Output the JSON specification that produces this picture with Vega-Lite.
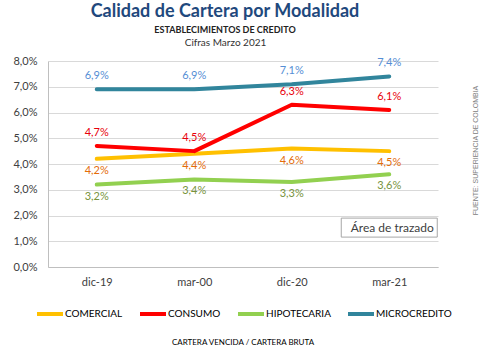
{
  "$schema": "https://vega.github.io/schema/vega-lite/v6.json",
  "width": 390,
  "height": 206,
  "autosize": {"type": "none"},
  "padding": {"left": 48, "top": 61, "right": 53, "bottom": 92},
  "background": "white",
  "title": {
    "text": "Calidad de Cartera por Modalidad",
    "subtitle": "ESTABLECIMIENTOS DE CREDITO",
    "font": "Lato",
    "fontSize": 18,
    "fontWeight": "bold",
    "color": "#1F497D",
    "subtitleFont": "Lato",
    "subtitleFontSize": 9,
    "subtitleFontWeight": "bold",
    "subtitleColor": "#222222",
    "subtitlePadding": 5,
    "anchor": "middle",
    "dx": -18,
    "offset": 2
  },
  "data": {
    "values": [
      {"periodo": "dic-19", "serie": "COMERCIAL", "valor": 0.042},
      {"periodo": "mar-00", "serie": "COMERCIAL", "valor": 0.044},
      {"periodo": "dic-20", "serie": "COMERCIAL", "valor": 0.046},
      {"periodo": "mar-21", "serie": "COMERCIAL", "valor": 0.045},
      {"periodo": "dic-19", "serie": "CONSUMO", "valor": 0.047},
      {"periodo": "mar-00", "serie": "CONSUMO", "valor": 0.045},
      {"periodo": "dic-20", "serie": "CONSUMO", "valor": 0.063},
      {"periodo": "mar-21", "serie": "CONSUMO", "valor": 0.061},
      {"periodo": "dic-19", "serie": "HIPOTECARIA", "valor": 0.032},
      {"periodo": "mar-00", "serie": "HIPOTECARIA", "valor": 0.034},
      {"periodo": "dic-20", "serie": "HIPOTECARIA", "valor": 0.033},
      {"periodo": "mar-21", "serie": "HIPOTECARIA", "valor": 0.036},
      {"periodo": "dic-19", "serie": "MICROCREDITO", "valor": 0.069},
      {"periodo": "mar-00", "serie": "MICROCREDITO", "valor": 0.069},
      {"periodo": "dic-20", "serie": "MICROCREDITO", "valor": 0.071},
      {"periodo": "mar-21", "serie": "MICROCREDITO", "valor": 0.074}
    ]
  },
  "layer": [
    {
      "mark": {"type": "line", "strokeWidth": 4, "strokeCap": "round", "strokeJoin": "round"},
      "encoding": {
        "x": {
          "field": "periodo", "type": "nominal",
          "sort": ["dic-19", "mar-00", "dic-20", "mar-21"],
          "scale": {"type": "point", "padding": 0.5},
          "axis": {"orient": "bottom", "title": null, "labelAngle": 0, "ticks": false, "labelPadding": 9, "domainColor": "#BFBFBF", "grid": false}
        },
        "y": {
          "field": "valor", "type": "quantitative",
          "scale": {"domain": [0, 0.08], "nice": false},
          "axis": {"orient": "left", "title": null, "format": ".1%", "values": [0, 0.01, 0.02, 0.03, 0.04, 0.05, 0.06, 0.07, 0.08], "ticks": false, "labelPadding": 11, "domainColor": "#BFBFBF", "gridColor": "#D9D9D9", "grid": true}
        },
        "color": {
          "field": "serie", "type": "nominal",
          "scale": {"domain": ["COMERCIAL", "CONSUMO", "HIPOTECARIA", "MICROCREDITO"], "range": ["#FFC000", "#FF0000", "#92D050", "#31859C"]},
          "legend": {
            "orient": "none",
            "legendX": -13,
            "legendY": 238,
            "direction": "horizontal",
            "title": "CARTERA VENCIDA / CARTERA BRUTA",
            "titleOrient": "bottom",
            "titleAnchor": "middle",
            "titleFont": "Lato",
            "titleFontSize": 8,
            "titleFontWeight": "normal",
            "titleColor": "#000000",
            "titlePadding": 17,
            "labelFont": "Lato",
            "labelFontSize": 10,
            "labelColor": "#000000",
            "labelOffset": 0,
            "symbolType": "stroke",
            "symbolSize": 676,
            "symbolStrokeWidth": 4,
            "columnPadding": 9
          }
        }
      }
    },
    {
      "transform": [{"filter": {"field": "serie", "oneOf": ["CONSUMO", "MICROCREDITO"]}}],
      "mark": {"type": "text", "dy": -13, "font": "Lato", "fontSize": 11},
      "encoding": {
        "x": {
          "field": "periodo", "type": "nominal",
          "sort": ["dic-19", "mar-00", "dic-20", "mar-21"],
          "scale": {"type": "point", "padding": 0.5},
          "axis": {"orient": "top", "title": "Cifras Marzo 2021", "titleFont": "Lato", "titleFontSize": 10, "titleFontWeight": "normal", "titleColor": "#333333", "labels": false, "ticks": false, "domain": false, "grid": false, "titlePadding": 14, "titleX": 177}
        },
        "y": {
          "field": "valor", "type": "quantitative",
          "scale": {"domain": [0, 0.08], "nice": false},
          "axis": {"orient": "right", "title": "FUENTE: SUPERIENCIA DE COLOMBIA", "titleAngle": 270, "titleFont": "Liberation Sans", "titleFontSize": 7, "titleFontWeight": "normal", "titleColor": "#808080", "labels": false, "ticks": false, "domain": false, "grid": false, "titlePadding": 40, "titleY": 89}
        },
        "text": {"field": "valor", "type": "quantitative", "format": ".1%"},
        "color": {
          "field": "serie", "type": "nominal",
          "scale": {"domain": ["COMERCIAL", "CONSUMO", "HIPOTECARIA", "MICROCREDITO"], "range": ["#E46C0A", "#E8000B", "#77933C", "#558ED5"]},
          "legend": null
        }
      }
    },
    {
      "transform": [{"filter": {"field": "serie", "oneOf": ["COMERCIAL", "HIPOTECARIA"]}}],
      "mark": {"type": "text", "dy": 12, "font": "Lato", "fontSize": 11},
      "encoding": {
        "x": {"field": "periodo", "type": "nominal", "sort": ["dic-19", "mar-00", "dic-20", "mar-21"], "scale": {"type": "point", "padding": 0.5}, "axis": null},
        "y": {"field": "valor", "type": "quantitative", "scale": {"domain": [0, 0.08], "nice": false}, "axis": null},
        "text": {"field": "valor", "type": "quantitative", "format": ".1%"},
        "color": {
          "field": "serie", "type": "nominal",
          "scale": {"domain": ["COMERCIAL", "CONSUMO", "HIPOTECARIA", "MICROCREDITO"], "range": ["#E46C0A", "#E8000B", "#77933C", "#558ED5"]},
          "legend": null
        }
      }
    },
    {
      "data": {"values": [{"etiqueta": "Área de trazado"}]},
      "mark": {"type": "point", "shape": "M-1,-0.198H1V0.198H-1Z", "size": 9216, "filled": true, "fill": "#FFFFFF", "stroke": "#A6A6A6", "strokeWidth": 1, "opacity": 1},
      "encoding": {
        "x": {"datum": "mar-21", "type": "nominal", "sort": ["dic-19", "mar-00", "dic-20", "mar-21"], "scale": {"type": "point", "padding": 0.5}, "axis": null},
        "y": {"datum": 0.0153, "type": "quantitative", "scale": {"domain": [0, 0.08], "nice": false}, "axis": null}
      }
    },
    {
      "data": {"values": [{"etiqueta": "Área de trazado"}]},
      "mark": {"type": "text", "dx": 3, "font": "Lato", "fontSize": 12, "color": "#404040"},
      "encoding": {
        "x": {"datum": "mar-21", "type": "nominal", "sort": ["dic-19", "mar-00", "dic-20", "mar-21"], "scale": {"type": "point", "padding": 0.5}, "axis": null},
        "y": {"datum": 0.0153, "type": "quantitative", "scale": {"domain": [0, 0.08], "nice": false}, "axis": null},
        "text": {"field": "etiqueta"}
      }
    }
  ],
  "resolve": {"scale": {"color": "independent"}, "axis": {"x": "independent", "y": "independent"}},
  "config": {
    "locale": {"number": {"decimal": ",", "thousands": ".", "grouping": [3], "currency": ["", "€"]}},
    "view": {"stroke": null},
    "axis": {"labelFont": "Lato", "labelFontSize": 11, "labelColor": "#404040"}
  }
}
